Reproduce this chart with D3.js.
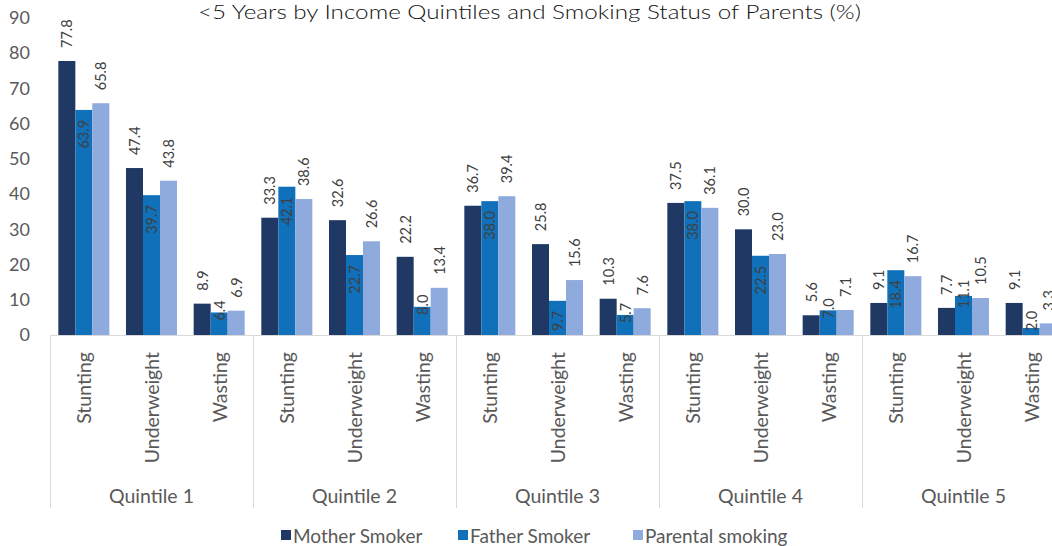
<!DOCTYPE html>
<html>
<head>
<meta charset="utf-8">
<script src="https://cdn.jsdelivr.net/npm/d3@7"></script>
<style>
  html, body { margin: 0; padding: 0; background: #ffffff; overflow: hidden; }
  svg { display: block; }
</style>
</head>
<body>
<svg id="chart" width="1052" height="546"></svg>
<script>
// ---------- data ----------
const titleText = "<5  Years by Income Quintiles and Smoking Status of Parents (%)";
const quintiles = ["Quintile 1", "Quintile 2", "Quintile 3", "Quintile 4", "Quintile 5"];
const indicators = ["Stunting", "Underweight", "Wasting"];
const seriesNames = ["Mother Smoker", "Father Smoker", "Parental smoking"];
// values per quintile, in indicator order (Stunting, Underweight, Wasting)
const motherSmoker   = [[77.8, 47.4, 8.9], [33.3, 32.6, 22.2], [36.7, 25.8, 10.3], [37.5, 30.0, 5.6], [9.1, 7.7, 9.1]];
const fatherSmoker   = [[63.9, 39.7, 6.4], [42.1, 22.7, 8.0], [38.0, 9.7, 5.7], [38.0, 22.5, 7.0], [18.4, 11.1, 2.0]];
const parentalSmoking = [[65.8, 43.8, 6.9], [38.6, 26.6, 13.4], [39.4, 15.6, 7.6], [36.1, 23.0, 7.1], [16.7, 10.5, 3.3]];
const yTicks = [0, 10, 20, 30, 40, 50, 60, 70, 80, 90];

// ---------- style ----------
const colors = ["#1f3864", "#1170ba", "#8faadc"];
const labelFont = "Lato, 'Open Sans', sans-serif";
const textColor = "#595959";

const seriesData = [motherSmoker, fatherSmoker, parentalSmoking];
const rows = [];
quintiles.forEach((q, qi) => {
  indicators.forEach((ind, ii) => {
    seriesNames.forEach((s, si) => {
      rows.push({ q, ind, s, si, value: seriesData[si][qi][ii] });
    });
  });
});

const svg = d3.select("#chart");
const left = 50, right = 1065, baseY = 335, topY = 18;

const x0 = d3.scaleBand().domain(quintiles).range([left, right]).padding(0);
const x1 = d3.scaleBand().domain(indicators).range([0, x0.bandwidth()]).padding(0);
const x2 = d3.scaleBand().domain(seriesNames).range([0, x1.bandwidth()]).paddingInner(0).paddingOuter(0.49);
const y = d3.scaleLinear().domain([0, 90]).range([baseY, topY]);

// title
svg.append("text")
  .attr("x", 198).attr("y", 19)
  .attr("font-family", "Lato, sans-serif")
  .attr("font-size", 19)
  .attr("font-weight", 300)
  .attr("fill", "#111111")
  .attr("textLength", 663)
  .attr("lengthAdjust", "spacingAndGlyphs")
  .text(titleText);

// y axis
const yAxis = d3.axisLeft(y).tickValues(yTicks).tickSize(0).tickPadding(20).tickFormat(d3.format("d"));
const yg = svg.append("g").attr("transform", `translate(${left},0)`).call(yAxis);
yg.select(".domain").remove();
yg.selectAll("text")
  .attr("font-family", labelFont)
  .attr("font-size", 18)
  .attr("fill", textColor);

// bars
const groups = svg.append("g");
const barX = d => x0(d.q) + x1(d.ind) + x2(d.s);
groups.selectAll("rect").data(rows).join("rect")
  .attr("x", barX)
  .attr("y", d => y(d.value))
  .attr("width", x2.bandwidth())
  .attr("height", d => baseY - y(d.value))
  .attr("fill", d => colors[d.si]);

// x axis line and separators
svg.append("line")
  .attr("x1", left).attr("x2", right)
  .attr("y1", baseY + 0.5).attr("y2", baseY + 0.5)
  .attr("stroke", "#d9d9d9").attr("stroke-width", 1);
const seps = quintiles.map(q => x0(q)).concat([right]);
svg.append("g").selectAll("line").data(seps).join("line")
  .attr("x1", d => Math.round(d) + 0.5).attr("x2", d => Math.round(d) + 0.5)
  .attr("y1", baseY).attr("y2", 508)
  .attr("stroke", "#d9d9d9").attr("stroke-width", 1);

// category labels
const cats = [];
quintiles.forEach(q => indicators.forEach(ind => cats.push({ q, ind })));
svg.append("g").selectAll("text").data(cats).join("text")
  .attr("transform", d => `translate(${x0(d.q) + x1(d.ind) + x1.bandwidth() / 2},352) rotate(-90)`)
  .attr("text-anchor", "end")
  .attr("dominant-baseline", "central")
  .attr("font-family", labelFont)
  .attr("font-size", 19.5)
  .attr("fill", textColor)
  .text(d => d.ind);

// quintile labels
svg.append("g").selectAll("text").data(quintiles).join("text")
  .attr("x", d => x0(d) + x0.bandwidth() / 2)
  .attr("y", 495)
  .attr("text-anchor", "middle")
  .attr("dominant-baseline", "central")
  .attr("font-family", labelFont)
  .attr("font-size", 19.5)
  .attr("fill", textColor)
  .text(d => d);

// data labels
const fmt = d3.format(".1f");
const labels = svg.append("g").selectAll("text").data(rows).join("text")
  .attr("font-family", labelFont)
  .attr("font-size", 14.5)
  .attr("fill", "#404040")
  .attr("dominant-baseline", "central")
  .text(d => fmt(d.value));
labels.each(function (d) {
  const t = d3.select(this);
  const cx = barX(d) + x2.bandwidth() / 2;
  const top = y(d.value);
  const len = this.getComputedTextLength();
  if (d.si === 1) {
    let endY = top + 10;
    if (endY + len > baseY - 1) { endY = Math.min(top - 2 - len / 2, baseY - 4 - len); }
    t.attr("text-anchor", "end").attr("transform", `translate(${cx},${endY}) rotate(-90)`);
  } else {
    t.attr("text-anchor", "start").attr("transform", `translate(${cx},${top - 13}) rotate(-90)`);
  }
});

// legend
const legendX = [281, 458, 633];
const legend = svg.append("g").selectAll("g").data(seriesNames).join("g")
  .attr("transform", (d, i) => `translate(${legendX[i]},535)`);
legend.append("rect").attr("x", 0).attr("y", -5).attr("width", 10).attr("height", 10)
  .attr("fill", (d, i) => colors[i]);
legend.append("text").attr("x", 12).attr("y", 0)
  .attr("dominant-baseline", "central")
  .attr("font-family", labelFont)
  .attr("font-size", 19)
  .attr("fill", textColor)
  .text(d => d);
</script>
</body>
</html>
